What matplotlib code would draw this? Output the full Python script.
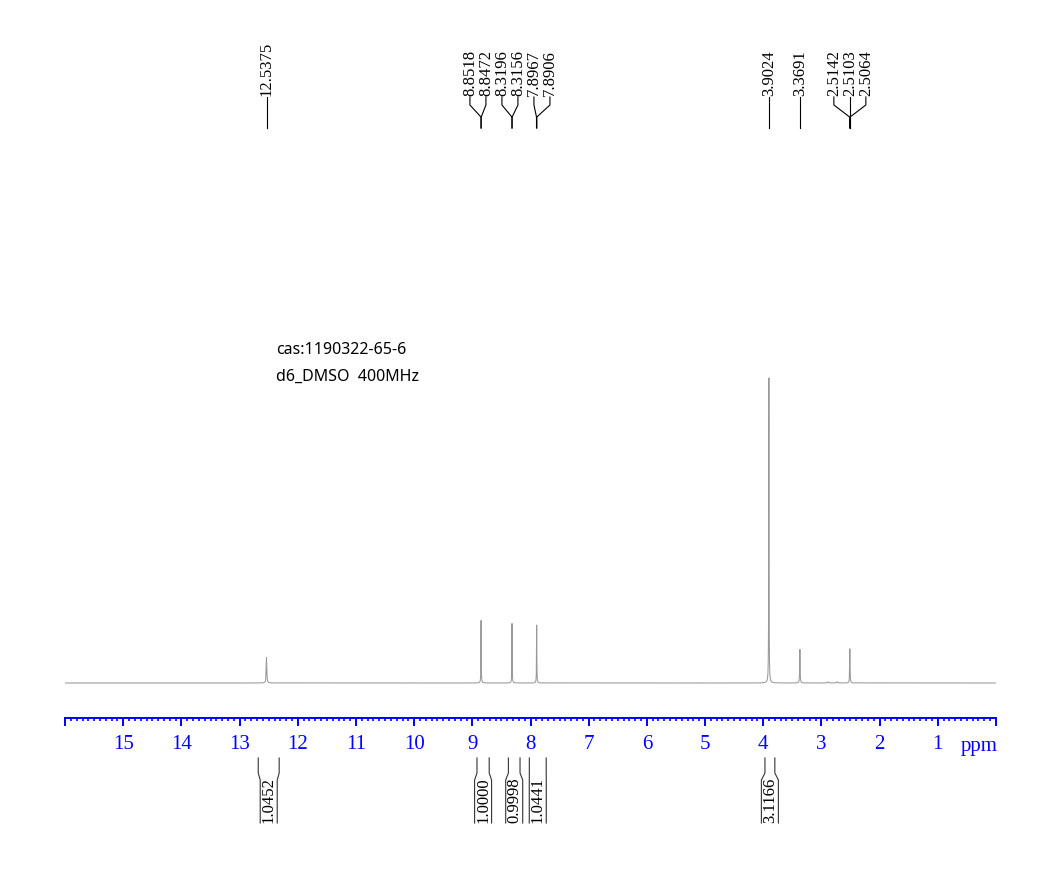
"""1H NMR spectrum plot (d6-DMSO, 400 MHz)."""

import numpy as np
import matplotlib

matplotlib.use("Agg")

import matplotlib.pyplot as plt
from matplotlib.ticker import FuncFormatter, MultipleLocator
from matplotlib.transforms import Affine2D, blended_transform_factory

# spectrum lines: position (ppm), relative height, half width (ppm)
peak_ppm = [12.5375, 8.8495, 8.3176, 7.8937, 3.9024, 3.3691, 2.5103, 2.89, 2.73]
peak_height = [0.083, 0.205, 0.195, 0.19, 1.0, 0.11, 0.112, 0.004, 0.004]
peak_width = [0.006, 0.003, 0.003, 0.003, 0.003, 0.004, 0.004, 0.010, 0.010]

# picked peaks shown at the top
pick_ppm = [12.5375, 8.8518, 8.8472, 8.3196, 8.3156, 7.8967, 7.8906,
            3.9024, 3.3691, 2.5142, 2.5103, 2.5064]

# integral regions and values
integral_from = [12.68, 8.92, 8.38, 8.02, 3.97]
integral_to = [12.32, 8.71, 8.18, 7.73, 3.80]
integral_value = [1.0452, 1.0000, 0.9998, 1.0441, 3.1166]

sample_lines = ["cas:1190322-65-6", "d6_DMSO  400MHz"]

PPM_MAX, PPM_MIN = 16.0, 0.0
W, H = 1050, 877
AX_LEFT, AX_RIGHT, AX_BOTTOM = 65.1, 995.9, 718.0  # pixels
BASELINE, TOP_PEAK = 683.0, 378.0  # pixels from top
PX_PER_PPM = (AX_RIGHT - AX_LEFT) / (PPM_MAX - PPM_MIN)
BLUE = "#0000ff"
SERIF = ["Liberation Serif", "DejaVu Serif"]


def spread_labels(values: list[float], sep: float) -> list[float]:
    """Place labels at least `sep` apart, centred on their peaks."""
    groups = [[v] for v in sorted(values, reverse=True)]
    while True:
        placed = []
        for group in groups:
            center = float(np.mean(group))
            n = len(group)
            placed.append([center + ((n - 1) / 2 - i) * sep for i in range(n)])
        merged = False
        for i in range(len(groups) - 1):
            if placed[i][-1] - placed[i + 1][0] < sep - 1e-9:
                groups[i] = groups[i] + groups.pop(i + 1)
                merged = True
                break
        if not merged:
            return [p for group in placed for p in group]


fig = plt.figure(figsize=(W / 100, H / 100), dpi=100)
ax = fig.add_axes([AX_LEFT / W, 1 - AX_BOTTOM / H, (AX_RIGHT - AX_LEFT) / W, AX_BOTTOM / H])

# spectrum as a sum of Lorentzian lines
x = np.union1d(np.linspace(PPM_MIN, PPM_MAX, 40000), peak_ppm)
y = np.zeros_like(x)
for center, height, width in zip(peak_ppm, peak_height, peak_width):
    y += height / (1 + ((x - center) / width) ** 2)
ax.plot(x, y, color="#999999", linewidth=0.75)

unit = BASELINE - TOP_PEAK
ax.set_xlim(PPM_MAX, PPM_MIN)
ax.set_ylim(-(AX_BOTTOM - BASELINE) / unit, BASELINE / unit)

for side in ("top", "left", "right"):
    ax.spines[side].set_visible(False)
ax.spines["bottom"].set_color(BLUE)
ax.spines["bottom"].set_linewidth(1.4)
ax.set_yticks([])
ax.xaxis.set_major_locator(MultipleLocator(1))
ax.xaxis.set_minor_locator(MultipleLocator(0.1))
ax.xaxis.set_major_formatter(
    FuncFormatter(lambda v, _: "" if v >= PPM_MAX - 0.5 or v <= PPM_MIN + 0.5 else f"{v:.0f}")
)
ax.tick_params(axis="x", which="major", direction="out", length=6, width=1.4,
               color=BLUE, labelcolor=BLUE, labelsize=15, pad=6.5)
ax.tick_params(axis="x", which="minor", direction="out", length=2.5, width=1.2, color=BLUE)
for label in ax.get_xticklabels():
    label.set_family(SERIF)

# x in ppm, y in pixels from the top of the figure
y_px = Affine2D().scale(1 / W, -1 / H).translate(0, 1) + fig.transFigure
trans = blended_transform_factory(ax.transData, y_px)

ax.text(0.29, 737, "ppm", transform=trans, ha="center", va="top",
        fontsize=15, color=BLUE, family=SERIF)

# peak labels with connectors
label_pos = spread_labels(pick_ppm, 16.0 / PX_PER_PPM)
for peak, lx in zip(sorted(pick_ppm, reverse=True), label_pos):
    ax.text(lx, 96, f"{peak:.4f}", transform=trans, rotation=90, ha="center",
            va="bottom", fontsize=12, family=SERIF, color="black")
    ax.plot([lx, lx, peak, peak], [97, 105, 117, 128], transform=trans,
            color="black", linewidth=0.8, clip_on=False)

# integral brackets
half = 8.5 / PX_PER_PPM
for start, end, value in zip(integral_from, integral_to, integral_value):
    center = (start + end) / 2
    ax.plot([start, start, center + half, center + half], [758, 773, 780, 823],
            transform=trans, color="#333333", linewidth=0.8, clip_on=False)
    ax.plot([end, end, center - half, center - half], [758, 773, 780, 823],
            transform=trans, color="#333333", linewidth=0.8, clip_on=False)
    ax.text(center, 823, f"{value:.4f}", transform=trans, rotation=90, ha="center",
            va="bottom", fontsize=12, family=SERIF, color="black")

for i, line in enumerate(sample_lines):
    fig.text(276 / W, 1 - (350 + 27 * i) / H, line, ha="left", va="center",
             fontsize=11.5, family=["Noto Sans", "DejaVu Sans"], color="black")

fig.savefig("out.png", dpi=100)
plt.close(fig)
